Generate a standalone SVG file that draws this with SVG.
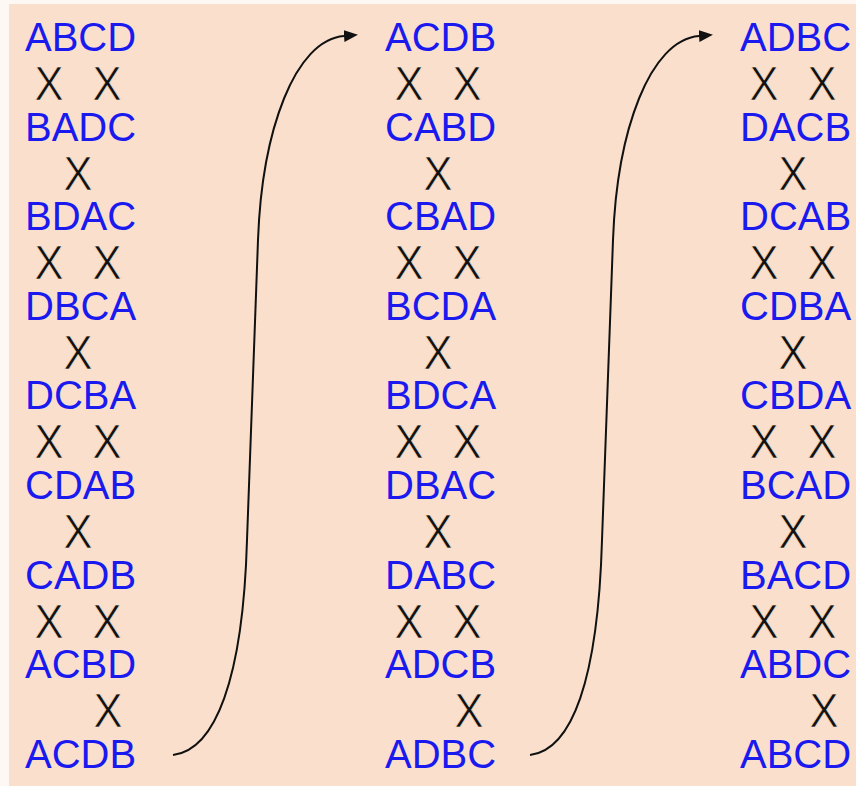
<svg xmlns="http://www.w3.org/2000/svg" width="856" height="786" viewBox="0 0 856 786">
<style>
.w{font-family:"Liberation Sans",Arial,sans-serif;font-size:40px;fill:#1a1aef}
.x{font-family:"Liberation Sans",Arial,sans-serif;font-size:48px;fill:#111;stroke:#fae0cc;stroke-width:0.7px;text-anchor:middle}
.c{fill:none;stroke:#111;stroke-width:2}
</style>
<defs>
<marker id="ah" markerUnits="userSpaceOnUse" markerWidth="16" markerHeight="14" refX="0" refY="6" orient="auto">
<path d="M0,0 L14,6 L0,12 z" fill="#111"/>
</marker>
</defs>
<rect width="856" height="786" fill="#fdf8f3"/>
<rect x="9" y="4" width="847" height="782" fill="#fae0cc"/>

<g id="col1">
<g id="c1r1"><text class="w" x="25" y="51">ABCD</text></g>
<g id="c1r2"><text class="w" x="25" y="141">BADC</text></g>
<g id="c1r3"><text class="w" x="25" y="230">BDAC</text></g>
<g id="c1r4"><text class="w" x="25" y="320">DBCA</text></g>
<g id="c1r5"><text class="w" x="25" y="409">DCBA</text></g>
<g id="c1r6"><text class="w" x="25" y="499">CDAB</text></g>
<g id="c1r7"><text class="w" x="25" y="589">CADB</text></g>
<g id="c1r8"><text class="w" x="25" y="678">ACBD</text></g>
<g id="c1r9"><text class="w" x="25" y="768">ACDB</text></g>
<g id="c1x">
<text class="x" x="49" y="100" textLength="29" lengthAdjust="spacingAndGlyphs">X</text>
<text class="x" x="107" y="100" textLength="29" lengthAdjust="spacingAndGlyphs">X</text>
<text class="x" x="78" y="190" textLength="29" lengthAdjust="spacingAndGlyphs">X</text>
<text class="x" x="49" y="279" textLength="29" lengthAdjust="spacingAndGlyphs">X</text>
<text class="x" x="107" y="279" textLength="29" lengthAdjust="spacingAndGlyphs">X</text>
<text class="x" x="78" y="369" textLength="29" lengthAdjust="spacingAndGlyphs">X</text>
<text class="x" x="49" y="458" textLength="29" lengthAdjust="spacingAndGlyphs">X</text>
<text class="x" x="107" y="458" textLength="29" lengthAdjust="spacingAndGlyphs">X</text>
<text class="x" x="78" y="548" textLength="29" lengthAdjust="spacingAndGlyphs">X</text>
<text class="x" x="49" y="638" textLength="29" lengthAdjust="spacingAndGlyphs">X</text>
<text class="x" x="107" y="638" textLength="29" lengthAdjust="spacingAndGlyphs">X</text>
<text class="x" x="108" y="727" textLength="29" lengthAdjust="spacingAndGlyphs">X</text>
</g>
</g>

<g id="col2">
<g id="c2r1"><text class="w" x="385" y="51">ACDB</text></g>
<g id="c2r2"><text class="w" x="385" y="141">CABD</text></g>
<g id="c2r3"><text class="w" x="385" y="230">CBAD</text></g>
<g id="c2r4"><text class="w" x="385" y="320">BCDA</text></g>
<g id="c2r5"><text class="w" x="385" y="409">BDCA</text></g>
<g id="c2r6"><text class="w" x="385" y="499">DBAC</text></g>
<g id="c2r7"><text class="w" x="385" y="589">DABC</text></g>
<g id="c2r8"><text class="w" x="385" y="678">ADCB</text></g>
<g id="c2r9"><text class="w" x="385" y="768">ADBC</text></g>
<g id="c2x">
<text class="x" x="409" y="100" textLength="29" lengthAdjust="spacingAndGlyphs">X</text>
<text class="x" x="467" y="100" textLength="29" lengthAdjust="spacingAndGlyphs">X</text>
<text class="x" x="438" y="190" textLength="29" lengthAdjust="spacingAndGlyphs">X</text>
<text class="x" x="409" y="279" textLength="29" lengthAdjust="spacingAndGlyphs">X</text>
<text class="x" x="467" y="279" textLength="29" lengthAdjust="spacingAndGlyphs">X</text>
<text class="x" x="438" y="369" textLength="29" lengthAdjust="spacingAndGlyphs">X</text>
<text class="x" x="409" y="458" textLength="29" lengthAdjust="spacingAndGlyphs">X</text>
<text class="x" x="467" y="458" textLength="29" lengthAdjust="spacingAndGlyphs">X</text>
<text class="x" x="438" y="548" textLength="29" lengthAdjust="spacingAndGlyphs">X</text>
<text class="x" x="409" y="638" textLength="29" lengthAdjust="spacingAndGlyphs">X</text>
<text class="x" x="467" y="638" textLength="29" lengthAdjust="spacingAndGlyphs">X</text>
<text class="x" x="469" y="727" textLength="29" lengthAdjust="spacingAndGlyphs">X</text>
</g>
</g>

<g id="col3">
<g id="c3r1"><text class="w" x="740" y="51">ADBC</text></g>
<g id="c3r2"><text class="w" x="740" y="141">DACB</text></g>
<g id="c3r3"><text class="w" x="740" y="230">DCAB</text></g>
<g id="c3r4"><text class="w" x="740" y="320">CDBA</text></g>
<g id="c3r5"><text class="w" x="740" y="409">CBDA</text></g>
<g id="c3r6"><text class="w" x="740" y="499">BCAD</text></g>
<g id="c3r7"><text class="w" x="740" y="589">BACD</text></g>
<g id="c3r8"><text class="w" x="740" y="678">ABDC</text></g>
<g id="c3r9"><text class="w" x="740" y="768">ABCD</text></g>
<g id="c3x">
<text class="x" x="764" y="100" textLength="29" lengthAdjust="spacingAndGlyphs">X</text>
<text class="x" x="822" y="100" textLength="29" lengthAdjust="spacingAndGlyphs">X</text>
<text class="x" x="793" y="190" textLength="29" lengthAdjust="spacingAndGlyphs">X</text>
<text class="x" x="764" y="279" textLength="29" lengthAdjust="spacingAndGlyphs">X</text>
<text class="x" x="822" y="279" textLength="29" lengthAdjust="spacingAndGlyphs">X</text>
<text class="x" x="793" y="369" textLength="29" lengthAdjust="spacingAndGlyphs">X</text>
<text class="x" x="764" y="458" textLength="29" lengthAdjust="spacingAndGlyphs">X</text>
<text class="x" x="822" y="458" textLength="29" lengthAdjust="spacingAndGlyphs">X</text>
<text class="x" x="793" y="548" textLength="29" lengthAdjust="spacingAndGlyphs">X</text>
<text class="x" x="764" y="638" textLength="29" lengthAdjust="spacingAndGlyphs">X</text>
<text class="x" x="822" y="638" textLength="29" lengthAdjust="spacingAndGlyphs">X</text>
<text class="x" x="824" y="727" textLength="29" lengthAdjust="spacingAndGlyphs">X</text>
</g>
</g>

<g id="connectors">
<path class="c" d="M173,755 C215,750 243,680 247,540 L258,240 C262,130 295,40 344,36" marker-end="url(#ah)"/>
<path class="c" d="M530,755 C572,750 598,680 602,540 L613,240 C617,130 650,40 699,36" marker-end="url(#ah)"/>
</g>
</svg>
